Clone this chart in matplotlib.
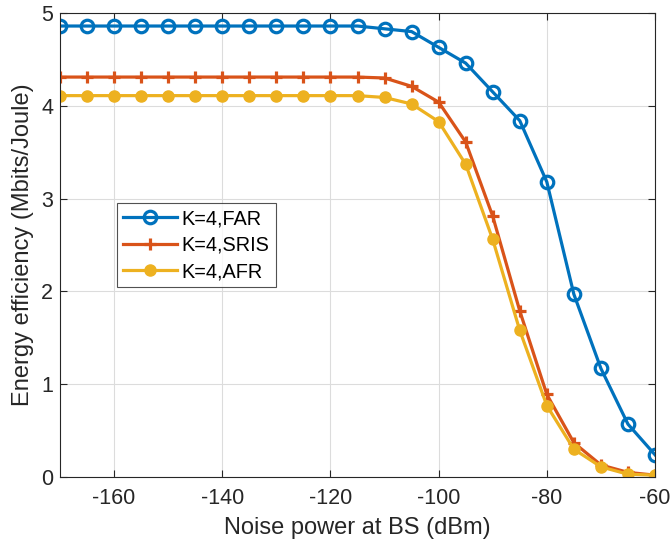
import matplotlib.pyplot as plt
import numpy as np

plt.rcParams['font.family'] = ['Liberation Sans', 'DejaVu Sans']
plt.rcParams['axes.unicode_minus'] = False

noise = np.arange(-170, -59, 5)
ee_far = [4.86, 4.86, 4.86, 4.86, 4.86, 4.86, 4.86, 4.86, 4.86, 4.86, 4.86, 4.86,
          4.83, 4.80, 4.63, 4.46, 4.15, 3.84, 3.18, 1.97, 1.17, 0.57, 0.24]
ee_sris = [4.31, 4.31, 4.31, 4.31, 4.31, 4.31, 4.31, 4.31, 4.31, 4.31, 4.31, 4.31,
           4.30, 4.21, 4.04, 3.61, 2.81, 1.79, 0.89, 0.37, 0.13, 0.05, 0.02]
ee_afr = [4.11, 4.11, 4.11, 4.11, 4.11, 4.11, 4.11, 4.11, 4.11, 4.11, 4.11, 4.11,
          4.09, 4.02, 3.83, 3.37, 2.56, 1.58, 0.77, 0.30, 0.11, 0.03, 0.02]
labels = ['K=4,FAR', 'K=4,SRIS', 'K=4,AFR']

fig = plt.figure(figsize=(6.7, 5.43), dpi=100)
ax = fig.add_axes([0.0896, 0.1215, 0.888, 0.8545])

ax.plot(noise, ee_far, 'o-', color='#0072BD', lw=2.3, ms=9, mew=2.3,
        mfc='none', label=labels[0])
ax.plot(noise, ee_sris, '+-', color='#D95319', lw=2.3, ms=9, mew=2.3,
        label=labels[1])
ax.plot(noise, ee_afr, 'o-', color='#EDB120', lw=2.3, ms=8,
        label=labels[2])

ax.set_xlim(-170, -60)
ax.set_ylim(0, 5)
ax.set_xticks(np.arange(-160, -59, 20))
ax.set_yticks(np.arange(0, 6, 1))
ax.grid(True, color='#dcdcdc', lw=0.8)
ax.set_axisbelow(True)
ax.tick_params(direction='in', labelsize=15.5, length=5, top=True, right=True,
               colors='#262626', pad=5)
ax.tick_params(axis='x', pad=8)
for s in ax.spines.values():
    s.set_color('#262626')
ax.set_xlabel('Noise power at BS (dBm)', fontsize=17, color='#262626', labelpad=6)
ax.set_ylabel('Energy efficiency (Mbits/Joule)', fontsize=17, color='#262626',
              labelpad=5)

leg = ax.legend(loc='upper left', bbox_to_anchor=(0.096, 0.59), fontsize=14.3,
                handlelength=2.7, fancybox=False, edgecolor='#262626',
                borderpad=0.3, labelspacing=0.38, handletextpad=0.25,
                borderaxespad=0)
leg.get_frame().set_linewidth(0.8)

fig.savefig('out.png', dpi=100)
